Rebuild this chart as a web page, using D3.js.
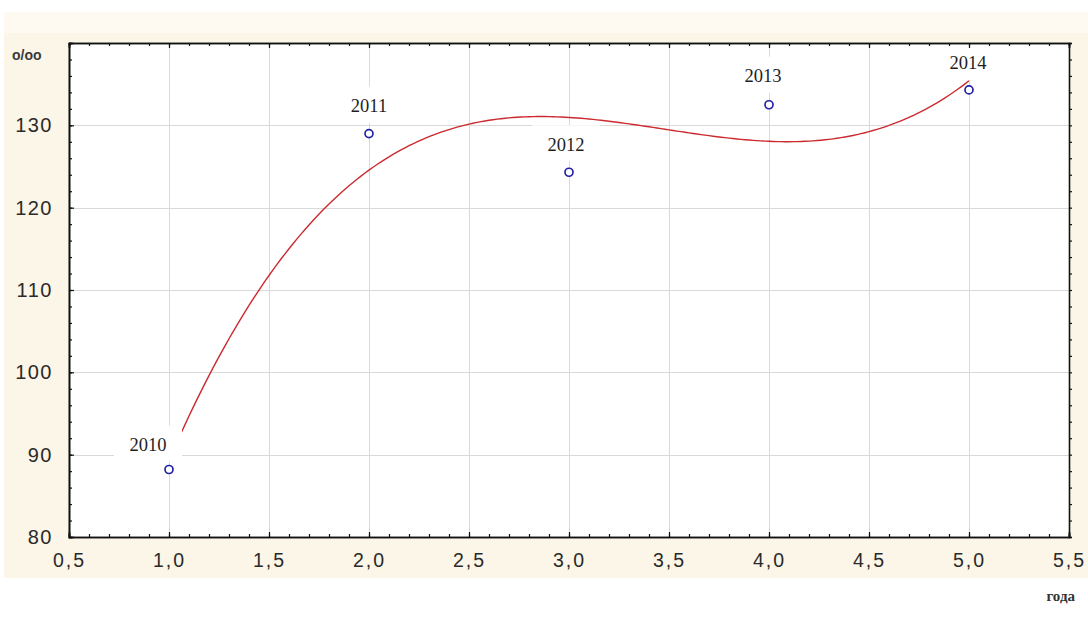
<!DOCTYPE html>
<html>
<head>
<meta charset="utf-8">
<script src="https://cdn.jsdelivr.net/npm/d3@7"></script>
<style>
  html, body { margin: 0; padding: 0; background: #ffffff; }
  svg { display: block; }
</style>
</head>
<body>
<svg id="chart" width="1088" height="628"></svg>
<script>
// Observations: index of year (1..5), rate per mille, year label
const xValues = [1, 2, 3, 4, 5];
const yValues = [88.2, 129.0, 124.3, 132.5, 134.3];
const pointLabels = ["2010", "2011", "2012", "2013", "2014"];

// Axis ticks
const xMajorTicks = [0.5, 1.0, 1.5, 2.0, 2.5, 3.0, 3.5, 4.0, 4.5, 5.0, 5.5];
const yMajorTicks = [80, 90, 100, 110, 120, 130];
const yUnitLabel = "o/oo";
const xUnitLabel = "года";

// Label placement relative to each point (pixels)
const labelDx = [-21, 0, -3, -6, -1];
const labelDy = [-25, -28, -28, -29, -27];

const svg = d3.select("#chart");
const W = 1088, H = 628;
const m = { left: 69, right: 1069, top: 43, bottom: 537 };

// page backdrop
svg.append("rect").attr("x", 4).attr("y", 12).attr("width", W - 4).attr("height", 566).attr("fill", "#fcf6e9");
svg.append("rect").attr("x", 4).attr("y", 12).attr("width", W - 4).attr("height", 21).attr("fill", "#fefaf2");

const x = d3.scaleLinear().domain([0.5, 5.5]).range([m.left, m.right]);
const y = d3.scaleLinear().domain([80, 140]).range([m.bottom, m.top]);

// plot area
svg.append("rect").attr("x", m.left).attr("y", m.top)
  .attr("width", m.right - m.left).attr("height", m.bottom - m.top).attr("fill", "#ffffff");

// grid
const grid = svg.append("g").attr("stroke", "#d9d9d9").attr("stroke-width", 1);
grid.selectAll("line.v").data(xMajorTicks.slice(1, -1)).join("line")
  .attr("x1", d => Math.round(x(d)) + 0.5).attr("x2", d => Math.round(x(d)) + 0.5)
  .attr("y1", m.top).attr("y2", m.bottom);
grid.selectAll("line.h").data(yMajorTicks.slice(1)).join("line")
  .attr("x1", m.left).attr("x2", m.right)
  .attr("y1", d => Math.round(y(d)) + 0.5).attr("y2", d => Math.round(y(d)) + 0.5);

// least-squares cubic trend through the observations
function polyFit(xs, ys, deg) {
  const n = deg + 1;
  const A = Array.from({ length: n }, () => new Array(n + 1).fill(0));
  for (let r = 0; r < n; r++) {
    for (let c = 0; c < n; c++) A[r][c] = d3.sum(xs, xv => Math.pow(xv, r + c));
    A[r][n] = d3.sum(xs, (xv, i) => ys[i] * Math.pow(xv, r));
  }
  for (let i = 0; i < n; i++) {
    let p = i;
    for (let k = i + 1; k < n; k++) if (Math.abs(A[k][i]) > Math.abs(A[p][i])) p = k;
    [A[i], A[p]] = [A[p], A[i]];
    for (let k = 0; k < n; k++) {
      if (k === i) continue;
      const f = A[k][i] / A[i][i];
      for (let c = i; c <= n; c++) A[k][c] -= f * A[i][c];
    }
  }
  return A.map((row, i) => row[n] / row[i]);
}
const coef = polyFit(xValues, yValues, 3);
const fitAt = t => coef.reduce((s, c, i) => s + c * Math.pow(t, i), 0);
const curveXs = d3.range(d3.min(xValues), d3.max(xValues) + 1e-9, 0.02);

svg.append("path")
  .datum(curveXs)
  .attr("fill", "none")
  .attr("stroke", "#cc2a2f")
  .attr("stroke-width", 1.4)
  .attr("d", d3.line().x(d => x(d)).y(d => y(fitAt(d))));

// white boxes behind year labels
const pts = xValues.map((v, i) => ({ x: v, y: yValues[i], label: pointLabels[i], dx: labelDx[i], dy: labelDy[i] }));
svg.append("g").selectAll("rect").data(pts).join("rect")
  .attr("x", d => x(d.x) + d.dx - 34).attr("y", d => y(d.y) + d.dy - 19)
  .attr("width", 68).attr("height", 36).attr("fill", "#ffffff");

// points
svg.append("g").selectAll("circle").data(pts).join("circle")
  .attr("cx", d => x(d.x)).attr("cy", d => y(d.y)).attr("r", 4)
  .attr("fill", "#ffffff").attr("stroke", "#2323a8").attr("stroke-width", 1.7);

// year labels
svg.append("g").selectAll("text").data(pts).join("text")
  .attr("x", d => x(d.x) + d.dx).attr("y", d => y(d.y) + d.dy)
  .attr("dy", "0.35em").attr("text-anchor", "middle")
  .attr("font-family", "'Liberation Serif', 'Times New Roman', serif")
  .attr("font-size", 18.5).attr("fill", "#1e1e1e")
  .text(d => d.label);

// axes
function styleAxis(g) {
  g.select(".domain").attr("stroke", "#111").attr("stroke-width", 1.6);
  g.selectAll(".tick line").attr("stroke", "#111").attr("stroke-width", 1.2);
}
const xMinor = d3.range(5, 56).map(v => v / 10);
const yMinor = d3.range(80, 141, 2);

// bottom
svg.append("g").attr("transform", `translate(0,${m.bottom})`)
  .call(d3.axisBottom(x).tickValues(xMinor).tickSize(-3).tickFormat(""))
  .call(styleAxis);
svg.append("g").attr("transform", `translate(0,${m.bottom})`)
  .call(d3.axisBottom(x).tickValues(xMajorTicks).tickSize(-5).tickPadding(16)
    .tickFormat(d => d3.format(".1f")(d).replace(".", ",")))
  .call(styleAxis)
  .call(g => g.selectAll("text")
    .attr("font-family", "'Liberation Sans', Arial, sans-serif")
    .attr("font-size", 19.5).attr("letter-spacing", "2px").attr("fill", "#2a2a2a"));
// top
svg.append("g").attr("transform", `translate(0,${m.top})`)
  .call(d3.axisTop(x).tickValues(xMinor).tickSize(-3).tickFormat(""))
  .call(styleAxis);
svg.append("g").attr("transform", `translate(0,${m.top})`)
  .call(d3.axisTop(x).tickValues(xMajorTicks).tickSize(-5).tickFormat(""))
  .call(styleAxis);
// left
svg.append("g").attr("transform", `translate(${m.left},0)`)
  .call(d3.axisLeft(y).tickValues(yMinor).tickSize(-3).tickFormat(""))
  .call(styleAxis);
svg.append("g").attr("transform", `translate(${m.left},0)`)
  .call(d3.axisLeft(y).tickValues(yMajorTicks).tickSize(-5).tickPadding(16).tickFormat(d3.format("d")))
  .call(styleAxis)
  .call(g => g.selectAll("text")
    .attr("font-family", "'Liberation Sans', Arial, sans-serif")
    .attr("font-size", 20).attr("letter-spacing", "1.5px").attr("fill", "#2a2a2a"));
// right
svg.append("g").attr("transform", `translate(${m.right},0)`)
  .call(d3.axisRight(y).tickValues(yMinor).tickSize(3).tickFormat(""))
  .call(styleAxis);

// unit labels
svg.append("text").attr("x", 12).attr("y", 60)
  .attr("font-family", "'Liberation Sans', Arial, sans-serif").attr("font-weight", "bold")
  .attr("font-size", 14).attr("fill", "#3a3a3a").text(yUnitLabel);
svg.append("text").attr("x", 1075).attr("y", 601).attr("text-anchor", "end")
  .attr("font-family", "'Liberation Serif', 'Times New Roman', serif").attr("font-weight", "bold")
  .attr("font-size", 15).attr("fill", "#333").text(xUnitLabel);
</script>
</body>
</html>
